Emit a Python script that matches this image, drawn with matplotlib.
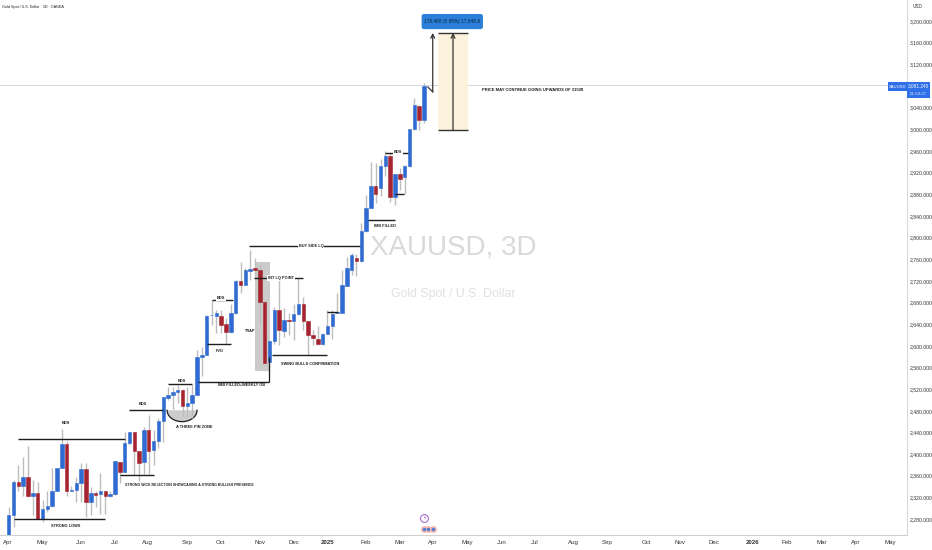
import numpy as np
import matplotlib
matplotlib.use('Agg')
import matplotlib.pyplot as plt
from matplotlib.patches import Rectangle, Polygon, FancyBboxPatch

plt.rcParams['font.family'] = ['Liberation Sans', 'DejaVu Sans']

# 3D candles
opens = [2250, 2287, 2349, 2341, 2358, 2323, 2329, 2281, 2298, 2305,
         2332, 2374, 2418, 2331, 2334, 2347, 2373, 2312, 2329, 2326,
         2331, 2323, 2326, 2386, 2367, 2420, 2441, 2406, 2385, 2444,
         2407, 2424, 2462, 2503, 2509, 2514, 2518, 2489, 2494, 2509,
         2580, 2583, 2657, 2656, 2656, 2640, 2626, 2660, 2720, 2713,
         2739, 2743, 2741, 2681, 2571, 2609, 2667, 2628, 2647, 2646,
         2658, 2678, 2645, 2620, 2613, 2603, 2622, 2637, 2661, 2661,
         2711, 2741, 2763, 2757, 2812, 2854, 2896, 2891, 2932, 2951,
         2874, 2917, 2911, 2932, 3000, 3043, 3018]
closes = [2287, 2349, 2341, 2358, 2323, 2329, 2281, 2298, 2305, 2332,
          2374, 2418, 2331, 2334, 2347, 2373, 2312, 2329, 2324, 2331,
          2323, 2326, 2388, 2367, 2420, 2441, 2406, 2383, 2444, 2406,
          2424, 2462, 2505, 2509, 2514, 2518, 2489, 2494, 2509, 2580,
          2584, 2655, 2657, 2660, 2638, 2626, 2660, 2720, 2712, 2740,
          2742, 2741, 2681, 2569, 2609, 2667, 2629, 2648, 2646, 2658,
          2678, 2645, 2620, 2614, 2603, 2622, 2637, 2659, 2662, 2712,
          2743, 2768, 2757, 2812, 2854, 2896, 2880, 2932, 2951, 2875,
          2917, 2908, 2932, 3000, 3044, 3018, 3080]
highs = [2303, 2352, 2379, 2394, 2415, 2352, 2349, 2315, 2331, 2374,
         2375, 2446, 2424, 2341, 2358, 2383, 2384, 2340, 2331, 2366,
         2332, 2331, 2388, 2386, 2441, 2441, 2441, 2406, 2451, 2472,
         2444, 2466, 2506, 2524, 2524, 2528, 2521, 2524, 2528, 2592,
         2598, 2657, 2685, 2667, 2667, 2651, 2678, 2721, 2755, 2743,
         2777, 2762, 2749, 2685, 2609, 2672, 2721, 2669, 2660, 2678,
         2725, 2691, 2645, 2629, 2636, 2623, 2666, 2666, 2697, 2740,
         2765, 2771, 2770, 2826, 2879, 2940, 2937, 2946, 2959, 2956,
         2917, 2928, 2934, 3000, 3057, 3044, 3085]
lows = [2247, 2266, 2331, 2323, 2321, 2287, 2281, 2275, 2294, 2303,
        2331, 2374, 2323, 2331, 2312, 2312, 2284, 2287, 2303, 2290,
        2290, 2321, 2324, 2347, 2367, 2417, 2361, 2351, 2363, 2363,
        2380, 2411, 2423, 2500, 2484, 2494, 2470, 2469, 2466, 2509,
        2544, 2583, 2638, 2623, 2623, 2604, 2623, 2659, 2697, 2712,
        2721, 2725, 2640, 2567, 2552, 2604, 2601, 2617, 2620, 2611,
        2657, 2629, 2583, 2601, 2601, 2601, 2622, 2612, 2660, 2660,
        2710, 2731, 2729, 2755, 2811, 2854, 2863, 2877, 2914, 2866,
        2860, 2888, 2880, 2931, 2999, 2999, 3011]

# hand drawn levels on the chart: start bar, end bar, price
level_start = [1, 2, 25, 23, 33, 39.2, 41, 42.1, 50.8, 54.5, 65.9, 49.8, 74.4, 77.9, 80]
level_end = [20, 24, 32, 30, 38, 53.9, 46, 46.4, 60.9, 65.9, 68.2, 72.7, 80, 82.7, 81.8]
level_price = [2281, 2428, 2481, 2362, 2529, 2534, 2603, 2685, 2725, 2583, 2662, 2784, 2832, 2956, 2880]

# labels: text, bar, price, sits on its line
label_text = ['BOS', 'STRONG LOWS', 'BOS', 'BOS', 'A THREE PIN ZONE', 'IMB FILLED+WEEKLY OB',
              'FVG', 'BOS', 'TRAP', 'INT LQ POINT', 'SWING BULLS CONFIRMATION', 'BUY SIDE LQ',
              'IMB FILLED', 'BOS']
label_bar = [11.8, 11.8, 27.8, 35.8, 38.4, 48.3, 43.7, 44, 50, 56.4, 62.4, 62.6, 77.9, 80.6]
label_price = [2458, 2267, 2492, 2535, 2450, 2528, 2590, 2688, 2627, 2725, 2566, 2784, 2821, 2958]
label_boxed = [False, False, False, False, False, False, False, True, False, True, False, True, False, True]

# 3,080 sits under the price tag on the scale
yticks = [v for v in range(2280, 3201, 40) if v != 3080]
month_bars = [-0.1, 6.9, 15, 22, 28.8, 36.9, 43.9, 52, 59, 66.1, 74, 81, 87.9, 94.9, 102, 109,
              117, 124, 132, 139, 146, 154, 161, 168.4, 175.4, 182.5]
month_names = ['Apr', 'May', 'Jun', 'Jul', 'Aug', 'Sep', 'Oct', 'Nov', 'Dec', '2025', 'Feb', 'Mar',
               'Apr', 'May', 'Jun', 'Jul', 'Aug', 'Sep', 'Oct', 'Nov', 'Dec', '2026', 'Feb', 'Mar',
               'Apr', 'May']

last_price = 3081.24
entry_price = 2999
target_price = 3178

BLUE = '#2f6bd0'
RED = '#a5242f'
WICK = '#bdbdbd'
INK = '#1e1e1e'

fig = plt.figure(figsize=(9.32, 5.5), dpi=100)
ax = fig.add_axes([0, 15 / 550, 907 / 932, 535 / 550])
ax.set_xlim(-1.8, 186)
ax.set_ylim(2250.6, 3238.8)

# watermark
ax.text(92.1, 2781, 'XAUUSD, 3D', fontsize=20, color='#d9d9d9', ha='center', va='center', zorder=0)
ax.text(92, 2696, 'Gold Spot / U.S. Dollar', fontsize=8.8, color='#e0e0e0', ha='center', va='center', zorder=0)

ax.axhline(last_price, color='#cfd6df', lw=0.7, zorder=1)

# trap box
ax.add_patch(Rectangle((51, 2553), 3.1, 202, facecolor='#cbcbc9', edgecolor='none', zorder=1))

# three pin zone
theta = np.linspace(np.pi, 2 * np.pi, 40)
arc_x = 35.9 + 3.1 * np.cos(theta)
arc_y = 2481 + 21 * np.sin(theta)
ax.add_patch(Polygon(np.column_stack([arc_x, arc_y]), closed=True, facecolor='#cccccc', edgecolor='none', zorder=1))
ax.plot(arc_x, arc_y, color=INK, lw=0.9, zorder=1.5)

# candles
bars = np.arange(len(opens))
opens = np.array(opens)
closes = np.array(closes)
colors = [BLUE if c >= o else RED for o, c in zip(opens, closes)]
ax.vlines(bars, lows, highs, color=WICK, lw=1.0, zorder=2)
ax.bar(bars, closes - opens, bottom=opens, width=0.72, color=colors, edgecolor=colors, lw=0.4, zorder=3)

# levels
ax.hlines(level_price, level_start, level_end, color=INK, lw=1.0, zorder=4)
ax.vlines(53.9, 2534, 2580, color=INK, lw=0.9, zorder=4)

for t, b, p, boxed in zip(label_text, label_bar, label_price, label_boxed):
    box = dict(facecolor='white', edgecolor='none', pad=0.5) if boxed else None
    ax.text(b, p, t, fontsize=2.8, fontweight='bold', color=INK, ha='center', va='center', zorder=5, bbox=box)
ax.text(24.1, 2343, 'STRONG WICK REJECTION SHOWCASING A STRONG BULLISH PRESENCE', fontsize=2.5,
        fontweight='bold', color=INK, ha='left', va='center', zorder=5)
ax.text(98, 3073, 'PRICE MAY CONTINUE GOING UPWARDS OF 3150$', fontsize=2.95,
        fontweight='bold', color=INK, ha='left', va='center', zorder=5)

# long position tool
ax.add_patch(Rectangle((88.9, entry_price), 6.1, target_price - entry_price,
                       facecolor='#fdf2dc', edgecolor='none', zorder=1))
ax.hlines([entry_price, target_price], 88.9, 95, color='#333333', lw=1.0, zorder=4)
head = dict(arrowstyle='->', color='#333333', lw=0.9, shrinkA=0, shrinkB=0, mutation_scale=7)
ax.annotate('', xy=(92, target_price), xytext=(92, entry_price), arrowprops=head, zorder=4)
ax.plot([86.8, 87.8], [3078, 3069], color='#333333', lw=0.9, zorder=4)
ax.annotate('', xy=(87.8, target_price), xytext=(87.8, 3069), arrowprops=head, zorder=4)
ax.add_patch(FancyBboxPatch((85.5, 3185), 12.7, 28, boxstyle='round,pad=0,rounding_size=0.5',
                            mutation_aspect=8.9, facecolor='#2b7fd8', edgecolor='none', zorder=6))
ax.text(91.85, 3199, '178.488 (5.95%) 17,848.8', fontsize=3.4, color='#0d2440', ha='center', va='center', zorder=7)

# events
ax.scatter([86, 86.9, 87.8], [2261.6] * 3, s=24, color='#f7b4b0', zorder=5, linewidths=0)
ax.scatter([86, 86.9, 87.8], [2261.6] * 3, s=6, color='#4a7fd6', zorder=6, linewidths=0)
ax.scatter([86], [2282], s=32, facecolor='white', edgecolor='#9b59c8', lw=0.7, zorder=5)
ax.text(86, 2282, '\u26a1', fontsize=4, family='DejaVu Sans', color='#9b59c8', ha='center', va='center', zorder=6)

# axes
for side in ['top', 'left']:
    ax.spines[side].set_visible(False)
ax.spines['right'].set_color('#d9d9d9')
ax.spines['bottom'].set_color('#d0d0d0')
ax.yaxis.tick_right()
ax.set_yticks(yticks)
ax.set_yticklabels(['{:,.3f}'.format(v) for v in yticks])
ax.tick_params(axis='y', length=0, pad=2, labelsize=3.7, labelcolor='#333333')
ax.set_xticks(month_bars)
ax.set_xticklabels(month_names)
ax.tick_params(axis='x', length=0, pad=3.5, labelsize=4.4, labelcolor='#333333')
for lab in ax.get_xticklabels():
    if lab.get_text() in ['2025', '2026']:
        lab.set_fontweight('bold')

# price tags on the scale
ax.add_patch(Rectangle((182, 3071), 4, 16, facecolor='#2f6fe8', edgecolor='none', clip_on=False, zorder=7))
ax.add_patch(Rectangle((186, 3058), 4.8, 29, facecolor='#2f6fe8', edgecolor='none', clip_on=False, zorder=7))
ax.text(184, 3079, 'XAUUSD', fontsize=3, color='white', ha='center', va='center', zorder=8)
ax.text(188.4, 3080, '3,081.240', fontsize=3.4, color='white', ha='center', va='center', clip_on=False, zorder=8)
ax.text(188.4, 3065, '01:04:27', fontsize=3.2, color='#d5e3ff', ha='center', va='center', clip_on=False, zorder=8)
fig.text(913 / 932, 1 - 7 / 550, 'USD', fontsize=3.4, color='#333333', ha='left', va='center')
fig.text(2 / 932, 1 - 7 / 550, 'Gold Spot / U.S. Dollar \u00b7 3D \u00b7 OANDA', fontsize=2.7, color='#222222',
         ha='left', va='center')

fig.savefig('out.png', dpi=100)
